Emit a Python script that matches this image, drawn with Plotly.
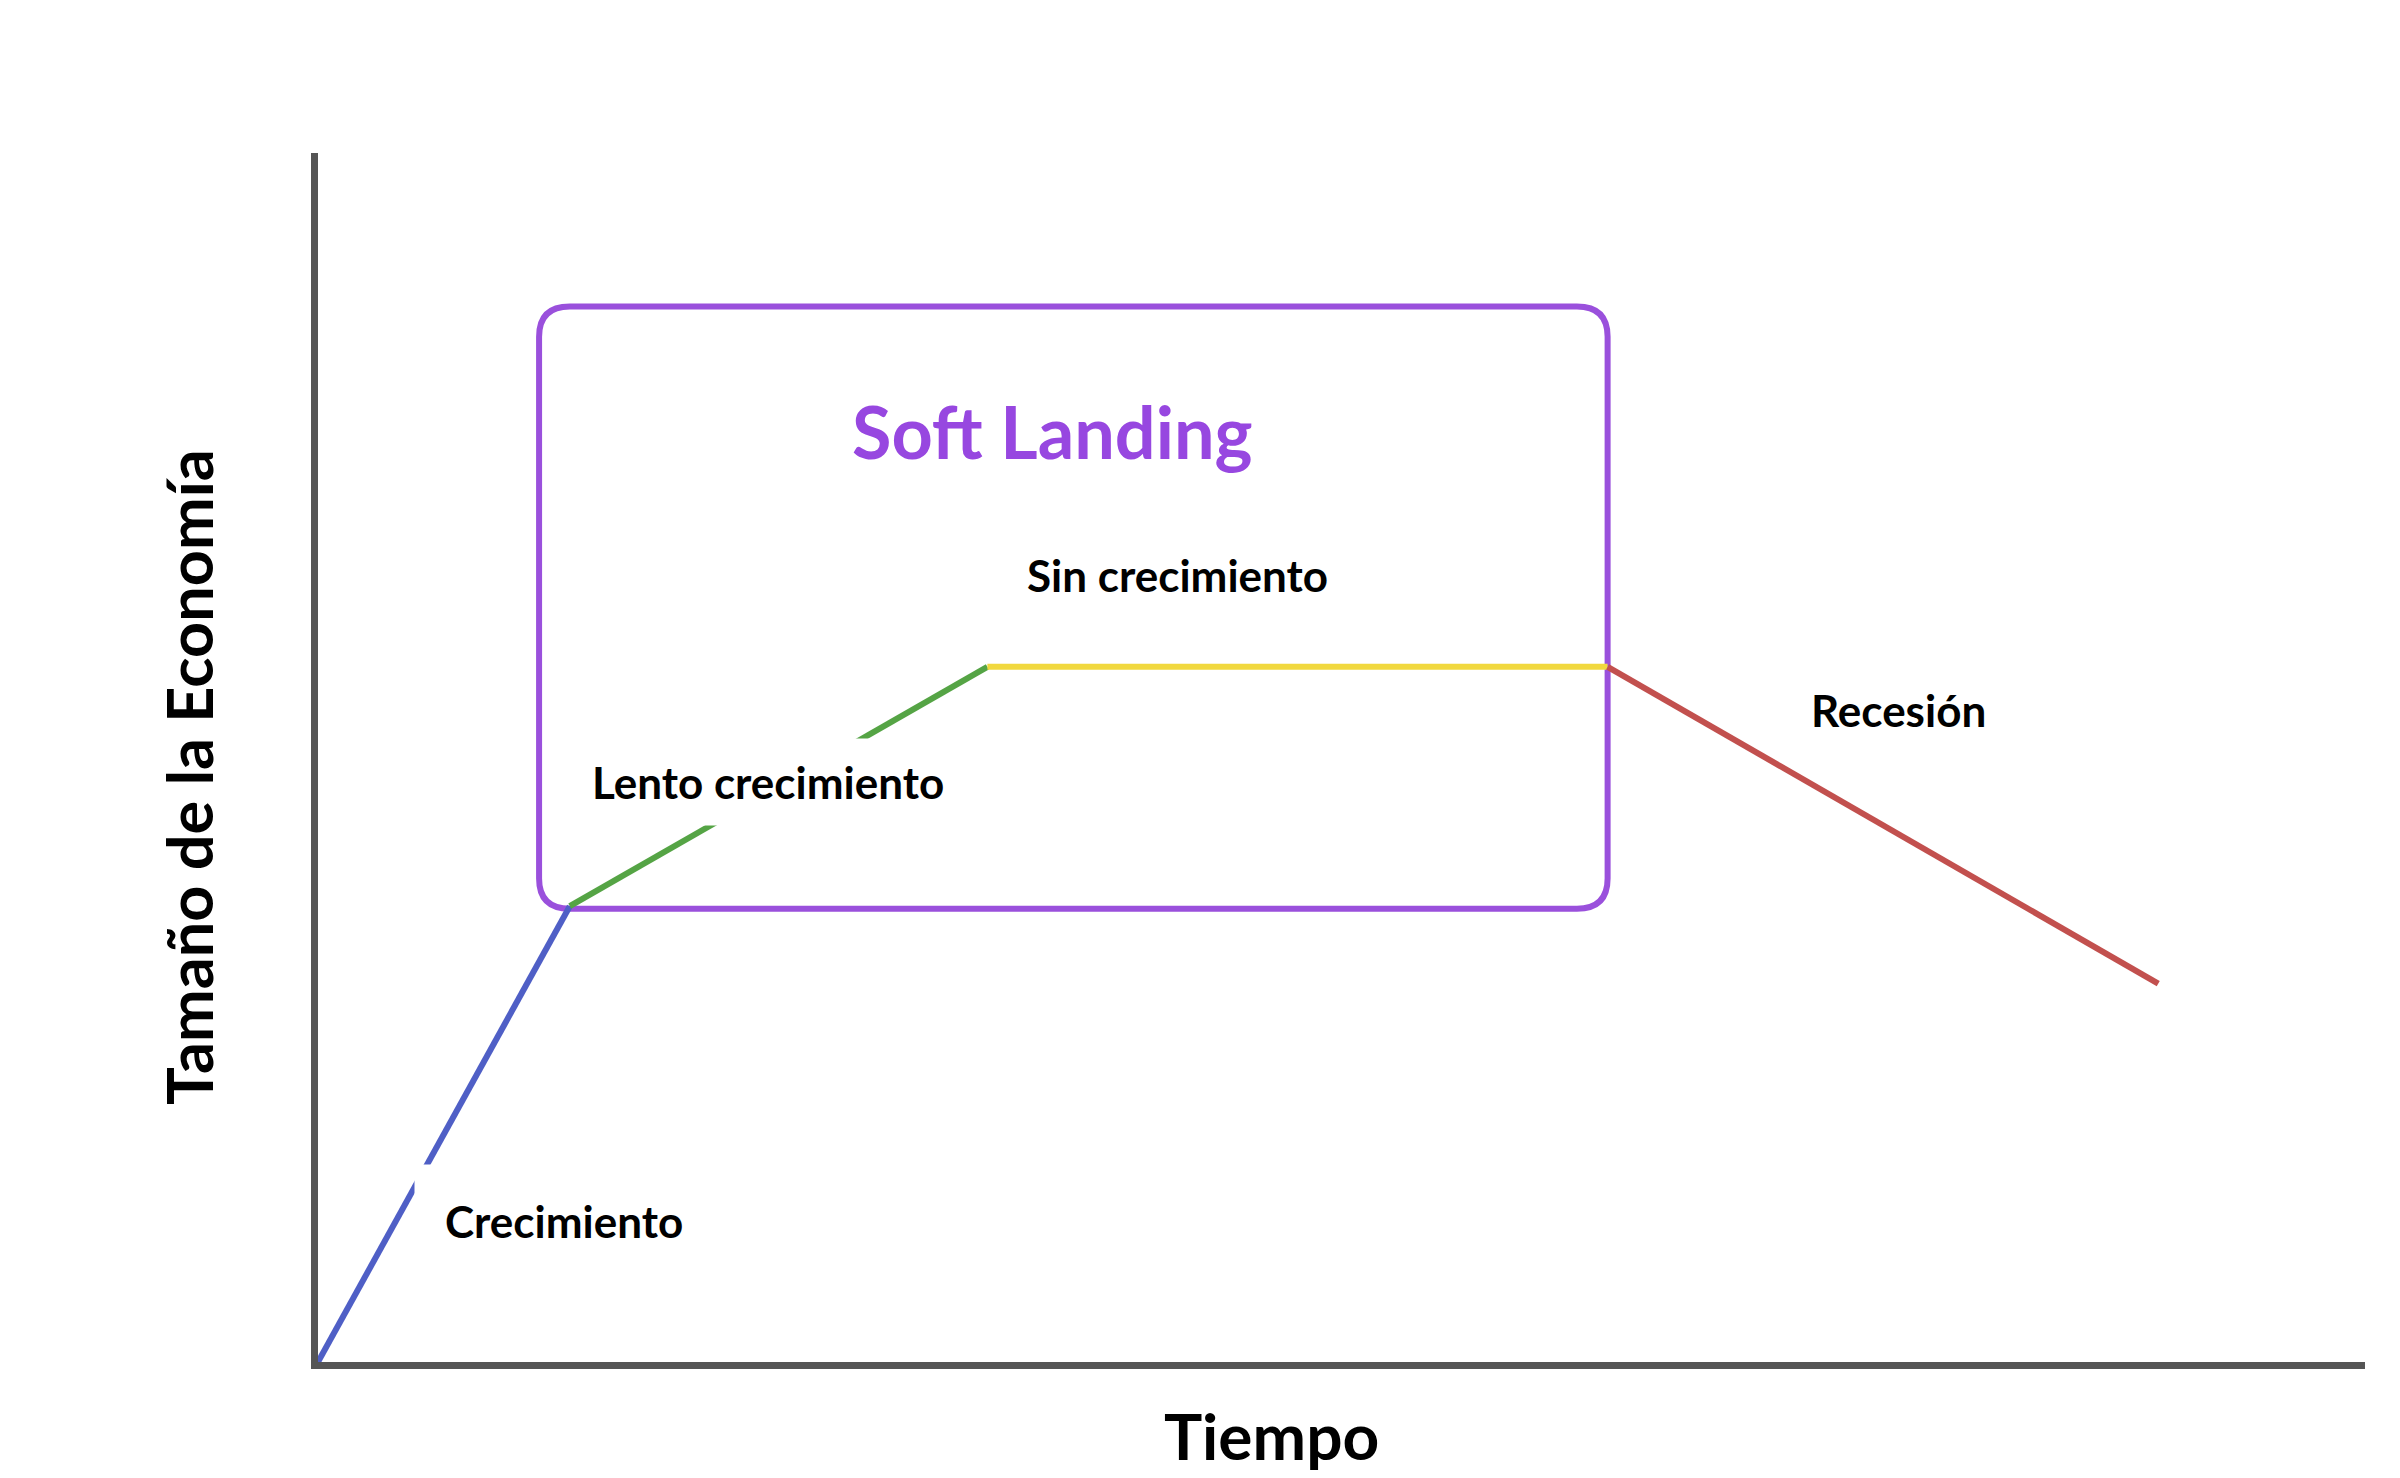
import plotly.graph_objects as go

# ---- data ----
phase_names = ["Crecimiento", "Lento crecimiento", "Sin crecimiento", "Recesión"]
phase_colors = ["#4F5FC6", "#55A445", "#F1D83E", "#C2504E"]
time_pts = [0.0, 12.3, 32.7, 63.0, 89.9]      # breakpoints of the path (time)
size_pts = [0.0, 37.7, 57.5, 57.5, 31.3]      # economy size at each breakpoint

soft_label = "Soft Landing"
soft_start, soft_end = 10.8, 63.0             # soft-landing window (time)
soft_low, soft_high = 37.5, 87.3              # soft-landing window (size)

x_title = "Tiempo"
y_title = "Tamaño de la Economía"

# label anchors (data units)
label_x = [12.0, 22.0, 42.0, 77.2]
label_y = [11.7, 48.0, 65.1, 53.9]
label_pad = [30, 17, 0, 0]
soft_label_pos = (35.9, 77.0)

FONT = "Lato, 'Open Sans', sans-serif"

fig = go.Figure()
for i, (name, col) in enumerate(zip(phase_names, phase_colors)):
    fig.add_trace(go.Scatter(
        x=time_pts[i:i + 2], y=size_pts[i:i + 2], mode="lines", name=name,
        line=dict(color=col, width=6), showlegend=False, hoverinfo="skip"))

# rounded rectangle for soft landing window
rx, ry = 1.5, 2.5
x0, x1, y0, y1 = soft_start, soft_end, soft_low, soft_high
path = (f"M {x0+rx},{y0} L {x1-rx},{y0} Q {x1},{y0} {x1},{y0+ry} "
        f"L {x1},{y1-ry} Q {x1},{y1} {x1-rx},{y1} L {x0+rx},{y1} "
        f"Q {x0},{y1} {x0},{y1-ry} L {x0},{y0+ry} Q {x0},{y0} {x0+rx},{y0} Z")
fig.add_shape(type="path", path=path, xref="x", yref="y",
              line=dict(color="#9A50DC", width=6), layer="below")

annotations = []
for name, lx, ly, pad in zip(phase_names, label_x, label_y, label_pad):
    annotations.append(dict(
        x=lx, y=ly, xref="x", yref="y", text=f"<b>{name}</b>", showarrow=False,
        font=dict(family=FONT, size=44, color="black"),
        bgcolor="white" if pad else "rgba(0,0,0,0)", borderpad=pad))
annotations.append(dict(
    x=soft_label_pos[0], y=soft_label_pos[1], xref="x", yref="y",
    text=f"<b>{soft_label}</b>", showarrow=False,
    font=dict(family=FONT, size=72, color="#9747E0")))
annotations.append(dict(
    x=0.466, y=-0.061, xref="paper", yref="paper", text=f"<b>{x_title}</b>",
    showarrow=False, xanchor="center", yanchor="middle",
    font=dict(family=FONT, size=64, color="black")))
annotations.append(dict(
    x=-0.063, y=0.484, xref="paper", yref="paper", text=f"<b>{y_title}</b>",
    showarrow=False, xanchor="center", yanchor="middle", textangle=-90,
    font=dict(family=FONT, size=63, color="black")))

fig.update_layout(
    width=2400, height=1478,
    margin=dict(l=310, r=43, t=145, b=124, autoexpand=False),
    paper_bgcolor="white", plot_bgcolor="white",
    annotations=annotations,
    xaxis=dict(range=[0, 100], showgrid=False, zeroline=False, showticklabels=False,
               ticks="", showline=True, linecolor="#555555", linewidth=7, fixedrange=True),
    yaxis=dict(range=[0, 100], showgrid=False, zeroline=False, showticklabels=False,
               ticks="", showline=True, linecolor="#555555", linewidth=7, fixedrange=True),
)

fig.write_html("out.html")
